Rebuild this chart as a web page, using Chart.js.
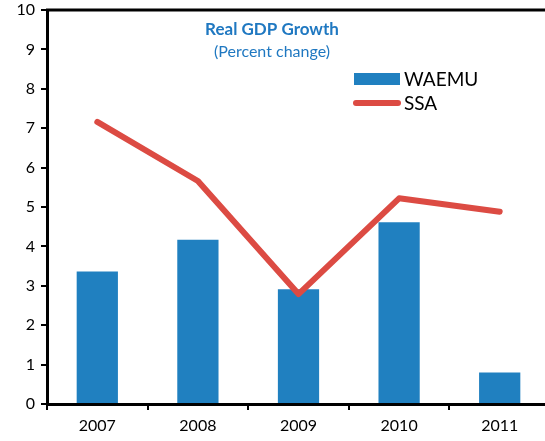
<!DOCTYPE html>
<html>
<head>
<meta charset="utf-8">
<script src="https://cdn.jsdelivr.net/npm/chart.js@4"></script>
<style>
  html, body { margin: 0; padding: 0; background: #fff; overflow: hidden; }
  #wrap { width: 545px; height: 441px; overflow: hidden; }
</style>
</head>
<body>
<div id="wrap"><canvas id="grafico" width="552" height="441" style="width:552px;height:441px"></canvas></div>
<script>
const years = ['2007', '2008', '2009', '2010', '2011'];
const waemu = [3.36, 4.17, 2.91, 4.61, 0.8];
const ssa = [7.16, 5.66, 2.79, 5.22, 4.88];
const yTicks = [0, 1, 2, 3, 4, 5, 6, 7, 8, 9, 10];

const fontFam = 'Lato, "Open Sans", sans-serif';

// title, legend and top frame line drawn inside the plot
const extras = {
  id: 'extras',
  afterDraw(chart) {
    const c = chart.ctx, a = chart.chartArea;
    c.save();
    c.strokeStyle = '#000';
    c.lineWidth = 3;
    c.beginPath();
    c.moveTo(a.left - 1, a.top);
    c.lineTo(chart.width, a.top);
    c.stroke();

    c.fillStyle = '#1f78c1';
    c.textAlign = 'center';
    c.textBaseline = 'middle';
    c.font = 'bold 17px ' + fontFam;
    c.fillText('Real GDP Growth', 272, 30);
    c.font = '16px ' + fontFam;
    c.fillText('(Percent change)', 272, 52);

    // legend
    c.fillStyle = '#2080c0';
    c.fillRect(354, 73, 46, 12);
    c.strokeStyle = '#dc4b43';
    c.lineWidth = 6;
    c.lineCap = 'round';
    c.beginPath();
    c.moveTo(356, 103);
    c.lineTo(398, 103);
    c.stroke();
    c.fillStyle = '#000';
    c.textAlign = 'left';
    c.font = '19px ' + fontFam;
    c.fillText('WAEMU', 404, 80);
    c.fillText('SSA', 404, 104);
    c.restore();
  }
};

new Chart(document.getElementById('grafico').getContext('2d'), {
  data: {
    labels: years,
    datasets: [
      {
        type: 'line',
        label: 'SSA',
        data: ssa,
        borderColor: '#dc4b43',
        borderWidth: 6,
        borderCapStyle: 'round',
        borderJoinStyle: 'round',
        pointRadius: 0,
        fill: false,
        tension: 0
      },
      {
        type: 'bar',
        label: 'WAEMU',
        data: waemu,
        backgroundColor: '#2080c0',
        barPercentage: 0.41,
        categoryPercentage: 1
      }
    ]
  },
  options: {
    responsive: false,
    animation: false,
    layout: { autoPadding: false, padding: { top: 10, right: 2, left: 0, bottom: 0 } },
    plugins: { legend: { display: false }, tooltip: { enabled: false } },
    scales: {
      x: {
        grid: { display: true, drawOnChartArea: false, drawTicks: true, tickLength: 6, color: '#000', lineWidth: 2, offset: true },
        border: { display: true, color: '#000', width: 3 },
        ticks: { color: '#000', font: { family: fontFam, size: 16 }, padding: 6, maxRotation: 0 },
        afterFit(s) { s.height = 37; s.paddingLeft = 0; s.paddingRight = 0; }
      },
      y: {
        min: 0,
        max: 10,
        afterBuildTicks(s) { s.ticks = yTicks.map(v => ({ value: v })); },
        grid: { display: true, drawOnChartArea: false, drawTicks: true, tickLength: 6, color: '#000', lineWidth: 2 },
        border: { display: true, color: '#000', width: 3 },
        ticks: { color: '#000', font: { family: fontFam, size: 16 }, padding: 6 },
        afterFit(s) { s.width = 47; s.paddingTop = 0; s.paddingBottom = 0; }
      }
    }
  },
  plugins: [extras]
});
</script>
</body>
</html>
